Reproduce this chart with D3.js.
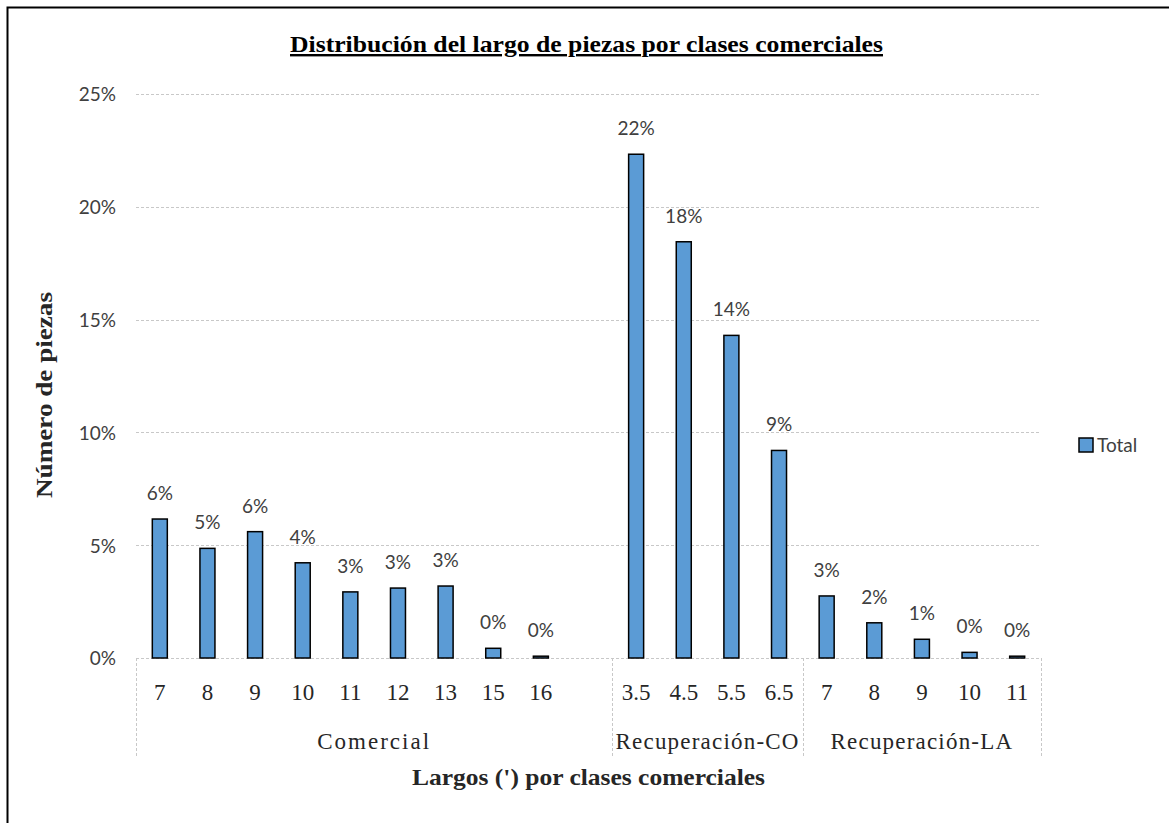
<!DOCTYPE html>
<html>
<head>
<meta charset="utf-8">
<script src="https://cdn.jsdelivr.net/npm/d3@7/dist/d3.min.js"></script>
<style>
  html, body { margin: 0; padding: 0; background: #fff; }
  svg { display: block; }
</style>
</head>
<body>
<svg id="chart" width="1169" height="823"></svg>
<script>
// Length classes (feet) and share of pieces (%), per commercial class
const groups = ["Comercial", "Recuperación-CO", "Recuperación-LA"];
const comercialLargos = ["7", "8", "9", "10", "11", "12", "13", "15", "16", ""];
const comercialPct    = [6.16, 4.86, 5.6, 4.22, 2.93, 3.1, 3.19, 0.43, 0.08, null];
const coLargos = ["3.5", "4.5", "5.5", "6.5"];
const coPct    = [22.33, 18.45, 14.3, 9.2];
const laLargos = ["7", "8", "9", "10", "11"];
const laPct    = [2.75, 1.56, 0.83, 0.25, 0.08];
const yTicks = [0, 0.05, 0.10, 0.15, 0.20, 0.25];
const seriesName = "Total";

const rows = [];
[[comercialLargos, comercialPct], [coLargos, coPct], [laLargos, laPct]].forEach(([labels, vals], gi) => {
  labels.forEach((l, i) => rows.push({
    key: groups[gi] + "|" + i, group: groups[gi], label: l,
    value: vals[i] == null ? null : vals[i] / 100
  }));
});

const svg = d3.select("#chart");
const plot = { left: 136, right: 1041, top: 94, bottom: 658 };

const x = d3.scaleBand().domain(rows.map(d => d.key)).range([plot.left, plot.right]).padding(0);
const y = d3.scaleLinear().domain([0, 0.25]).range([plot.bottom, plot.top]);
const pct = d3.format(".0%");

const sansFont = "Lato, 'Open Sans', sans-serif";
const serifFont = "'Liberation Serif', 'Times New Roman', serif";

// Outer frame
svg.append("rect").attr("x", 7.5).attr("y", 7.5).attr("width", 1300).attr("height", 1000)
  .attr("fill", "none").attr("stroke", "#000").attr("stroke-width", 2);

// Title
svg.append("text").attr("x", 290).attr("y", 52)
  .attr("textLength", 593).attr("lengthAdjust", "spacingAndGlyphs")
  .attr("font-family", serifFont).attr("font-weight", "bold").attr("font-size", 24)
  .attr("fill", "#000").attr("text-decoration", "underline")
  .text("Distribución  del  largo de piezas  por  clases comerciales");

// Gridlines
svg.append("g").selectAll("line").data(yTicks.filter(t => t > 0)).join("line")
  .attr("x1", plot.left).attr("x2", plot.right)
  .attr("y1", d => Math.round(y(d)) + 0.5).attr("y2", d => Math.round(y(d)) + 0.5)
  .attr("stroke", "#c8c8c8").attr("stroke-width", 1).attr("stroke-dasharray", "3,2");

// Y axis labels
const yAxis = d3.axisLeft(y).tickValues(yTicks).tickFormat(pct).tickSize(0).tickPadding(20);
const gy = svg.append("g").attr("transform", `translate(${plot.left},0)`).call(yAxis);
gy.select(".domain").remove();
gy.selectAll("text").attr("font-family", sansFont).attr("font-size", 19)
  .attr("fill", "#404040").attr("dy", "0.36em");

// Category axis baseline
svg.append("line").attr("x1", plot.left).attr("x2", plot.right)
  .attr("y1", plot.bottom + 0.5).attr("y2", plot.bottom + 0.5)
  .attr("stroke", "#c8c8c8").attr("stroke-dasharray", "3,2");

// Group separators
const groupBounds = groups.map(g => {
  const keys = rows.filter(r => r.group === g).map(r => r.key);
  return { group: g, x0: x(keys[0]), x1: x(keys[keys.length - 1]) + x.bandwidth() };
});
const sepX = [groupBounds[0].x0, ...groupBounds.map(b => b.x1)];
svg.append("g").selectAll("line").data(sepX).join("line")
  .attr("x1", d => Math.round(d) + 0.5).attr("x2", d => Math.round(d) + 0.5)
  .attr("y1", plot.bottom).attr("y2", 757)
  .attr("stroke", "#c8c8c8").attr("stroke-dasharray", "3,2");

// Category labels
svg.append("g").selectAll("text").data(rows).join("text")
  .attr("x", d => x(d.key) + x.bandwidth() / 2).attr("y", 700)
  .attr("text-anchor", "middle")
  .attr("font-family", serifFont).attr("font-size", 23).attr("fill", "#262626")
  .text(d => d.label);

// Group labels
svg.append("g").selectAll("text").data(groupBounds).join("text")
  .attr("x", d => (d.x0 + d.x1) / 2).attr("y", 749)
  .attr("text-anchor", "middle")
  .attr("font-family", serifFont).attr("font-size", 23).attr("fill", "#262626")
  .attr("letter-spacing", d => d.group === "Comercial" ? 2 : 1.2)
  .text(d => d.group);

// Bars
const bw = 15;
const barRows = rows.filter(d => d.value != null);
svg.append("g").selectAll("rect").data(barRows).join("rect")
  .attr("x", d => x(d.key) + x.bandwidth() / 2 - bw / 2)
  .attr("y", d => y(d.value))
  .attr("width", bw)
  .attr("height", d => Math.max(0, y(0) - y(d.value)))
  .attr("fill", "#5B9BD5").attr("stroke", "#000").attr("stroke-width", 1.5);

// Data labels
svg.append("g").selectAll("text").data(barRows).join("text")
  .attr("x", d => x(d.key) + x.bandwidth() / 2)
  .attr("y", d => y(d.value) - 19)
  .attr("text-anchor", "middle")
  .attr("font-family", sansFont).attr("font-size", 19).attr("fill", "#404040")
  .text(d => pct(d.value));

// Axis titles
svg.append("text").attr("x", 412).attr("y", 785)
  .attr("textLength", 353).attr("lengthAdjust", "spacingAndGlyphs")
  .attr("font-family", serifFont).attr("font-weight", "bold").attr("font-size", 24).attr("fill", "#262626")
  .text("Largos (') por  clases comerciales");

svg.append("text").attr("transform", "translate(52,395) rotate(-90)")
  .attr("text-anchor", "middle")
  .attr("font-family", serifFont).attr("font-weight", "bold").attr("font-size", 24).attr("fill", "#262626")
  .attr("textLength", 206).attr("lengthAdjust", "spacingAndGlyphs")
  .text("Número  de  piezas");

// Legend
const lg = svg.append("g").attr("transform", "translate(1079,438)");
lg.append("rect").attr("width", 14).attr("height", 14)
  .attr("fill", "#5B9BD5").attr("stroke", "#000").attr("stroke-width", 1.5);
lg.append("text").attr("x", 18).attr("y", 7).attr("dy", "0.36em")
  .attr("font-family", sansFont).attr("font-size", 19).attr("fill", "#404040")
  .text(seriesName);
</script>
</body>
</html>
